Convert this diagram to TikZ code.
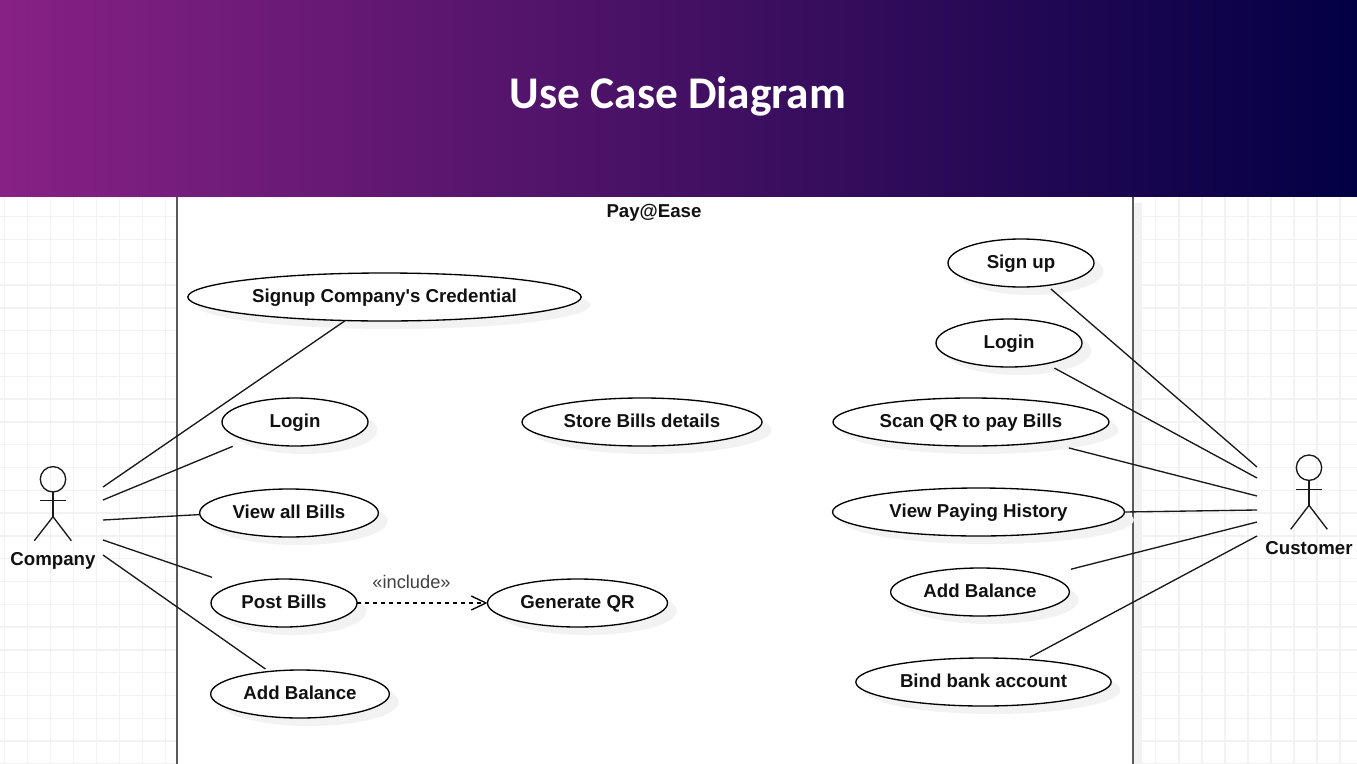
\documentclass[tikz,border=0pt]{standalone}
\usepackage{fontspec}
\setmainfont{Liberation Sans}[Ligatures=TeXOff]
\newfontfamily\titlefont{Carlito}
\usetikzlibrary{shapes.geometric,shadows,arrows.meta}
\definecolor{bandL}{HTML}{872185}
\definecolor{bandR}{HTML}{020044}
\definecolor{gridc}{HTML}{F2F2F2}
\definecolor{boxc}{HTML}{5A5A5A}
\definecolor{shadowc}{HTML}{F2F2F2}
\definecolor{inkc}{HTML}{111111}
\tikzset{
  labelfont/.style={font=\fontsize{14pt}{16pt}\selectfont\bfseries,text height=10.5pt,text depth=2pt},
  usecase/.style={ellipse,draw=black,line width=1pt,fill=white,inner sep=0pt,outer sep=0pt,
    minimum height=36pt,text=inkc,labelfont,
    drop shadow={shadow xshift=7pt,shadow yshift=-6pt,fill=shadowc,opacity=1}},
  assoc/.style={line width=1pt,draw=black!90},
  limb/.style={line width=1pt,draw=black!90},
  actorname/.style={text=inkc,labelfont,inner sep=0pt},
  gridline/.style={draw=gridc,line width=1pt},
}
\begin{document}
\begin{tikzpicture}[x=0.75pt,y=-0.75pt]
\useasboundingbox (0,0) rectangle (1357,764);
\fill[white] (0,0) rectangle (1357,764);
% grid
\foreach \k in {0,...,58} \draw[gridline] ({4.3+23.03*\k},197) -- ({4.3+23.03*\k},764);
\foreach \k in {0,...,24} \draw[gridline] (0,{216.7+22.8*\k}) -- (1357,{216.7+22.8*\k});
% system boundary
\fill[shadowc] (1142,203) rectangle (1133,764);
\draw[draw=boxc,line width=1.6pt,fill=white] (177,190) rectangle (1133,780);
% banner
\shade[left color=bandL,right color=bandR] (0,0) rectangle (1357,196.8);
\node (title) at (678,96) [text=white,inner sep=0pt,font=\titlefont\fontsize{34pt}{40pt}\selectfont\bfseries] {Use Case Diagram};
\node[actorname] (system) at (654,212) {Pay@Ease};
% use cases, company side
\node[usecase,minimum width=295pt] (signup) at (384.5,297) {Signup Company's Credential};
\node[usecase,minimum width=109.5pt] (loginA) at (295,422) {Login};
\node[usecase,minimum width=134pt] (bills) at (289,513) {View all Bills};
\node[usecase,minimum width=109.5pt] (post) at (284,603) {Post Bills};
\node[usecase,minimum width=134pt] (balA) at (300,694) {Add Balance};
\node[usecase,minimum width=180pt] (store) at (642,422) {Store Bills details};
\node[usecase,minimum width=135pt] (qr) at (577.5,603) {Generate QR};
% use cases, customer side
\node[usecase,minimum width=109.5pt] (signB) at (1021,263) {Sign up};
\node[usecase,minimum width=109.5pt] (loginB) at (1009,343) {Login};
\node[usecase,minimum width=207pt] (scan) at (971,422) {Scan QR to pay Bills};
\node[usecase,minimum width=219pt] (hist) at (978.5,512) {View Paying History};
\node[usecase,minimum width=134pt] (balB) at (980,592) {Add Balance};
\node[usecase,minimum width=191.5pt] (bind) at (983.5,682) {Bind bank account};
% actors
\coordinate (compHip) at (53,516.7);
\draw[limb] (53,479.3) circle (12.7);
\draw[limb] (53,492) -- (compHip);
\draw[limb] (39.5,500.7) -- (66,500.7);
\draw[limb] (34.3,540.7) -- (compHip) -- (71.3,540.7);
\node[actorname] (company) at (53,559.8) {Company};
\coordinate (custHip) at (1309,505.3);
\draw[limb] (1309,467.7) circle (12.7);
\draw[limb] (1309,480.4) -- (custHip);
\draw[limb] (1295.8,489.3) -- (1322.2,489.3);
\draw[limb] (1290.7,529.3) -- (custHip) -- (1327.3,529.3);
\node[actorname] (customer) at (1309,548.5) {Customer};
% free ends at the actors
\coordinate (c1) at (103,487);
\coordinate (c2) at (103,500);
\coordinate (c3) at (103,520);
\coordinate (c4) at (103,540);
\coordinate (c5) at (103,555);
\coordinate (d1) at (1257,467);
\coordinate (d2) at (1257,478);
\coordinate (d3) at (1257,496);
\coordinate (d4) at (1257,510);
\coordinate (d5) at (1257,522);
\coordinate (d6) at (1257,536);
% associations
\draw[assoc] (c1) -- (signup.211.7);
\draw[assoc,shorten >=12pt] (c2) -- (loginA.201.9);
\draw[assoc] (c3) -- (bills.181.3);
\draw[assoc,shorten >=18.4pt] (c4) -- (post.160.9);
\draw[assoc,shorten >=3.3pt] (c5) -- (balA.144.4);
\draw[assoc,shorten >=4pt] (d1) -- (signB.319.1);
\draw[assoc,shorten >=7pt] (d2) -- (loginB.331.5);
\draw[assoc,shorten >=17.6pt] (d3) -- (scan.345.7);
\draw[assoc] (d4) -- (hist.0);
\draw[assoc,shorten >=19.8pt] (d5) -- (balB.14.2);
\draw[assoc,shorten >=3.2pt] (d6) -- (bind.28);
% include
\draw[line width=1pt,dash pattern=on 3pt off 3pt,draw=black,-{Straight Barb[length=11pt,width=10.5pt,line width=1pt]}] (post.east) -- (qr.west);
\node (incl) at (411.5,582) [inner sep=0pt,text=black!75,font=\fontsize{13.7pt}{16pt}\selectfont] {«include»};
\end{tikzpicture}
\end{document}
